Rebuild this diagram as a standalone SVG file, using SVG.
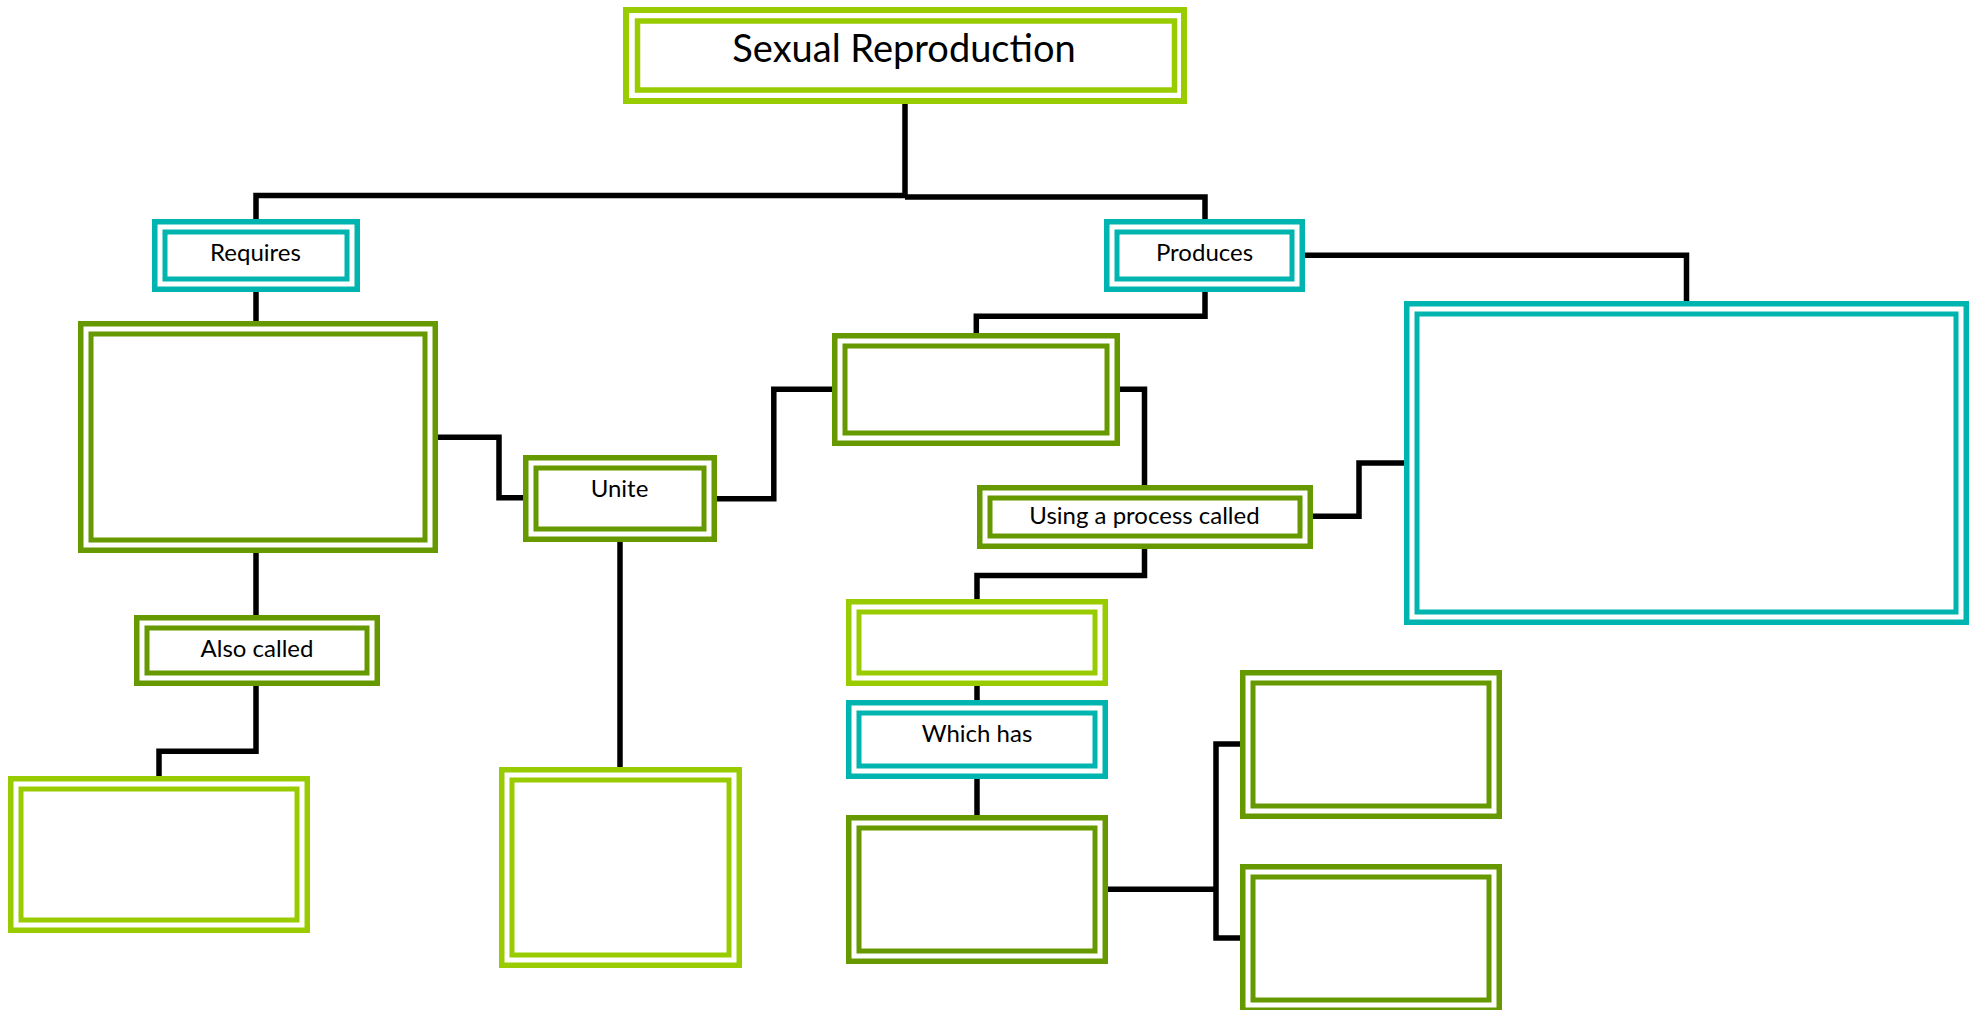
<svg xmlns="http://www.w3.org/2000/svg" width="1969" height="1010" viewBox="0 0 1969 1010">
<style>
rect{fill:none}
.o{stroke-width:5.5}
.i{stroke-width:5}
.dg{stroke:#669900}
.lg{stroke:#99CC00}
.tl{stroke:#00B4B0}
text{font-family:Lato,"Liberation Sans",sans-serif;font-size:24px;fill:#000;text-anchor:middle}
.c{fill:none;stroke:#000;stroke-width:5.5;stroke-linejoin:miter;stroke-linecap:butt}
</style>
<rect x="0" y="0" width="1969" height="1010" fill="#fff" style="fill:#fff"/>
<g id="connectors">
<path class="c" d="M905,104 V196 M256,219 V195.5 H905 M905,197 H1205 V219"/>
<path class="c" d="M256,292 V321"/>
<path class="c" d="M438,437.3 H499 V497.8 H523"/>
<path class="c" d="M717,498.7 H773.8 V389.3 H832"/>
<path class="c" d="M1205,292 V316.3 H976.3 V333"/>
<path class="c" d="M1305,255.3 H1686.5 V301"/>
<path class="c" d="M1120,389.2 H1144.5 V485"/>
<path class="c" d="M1313,516.3 H1359 V463 H1404"/>
<path class="c" d="M1144.5,549 V575.5 H977 V599"/>
<path class="c" d="M977,686 V700"/>
<path class="c" d="M977,779 V815"/>
<path class="c" d="M1108,889.3 H1216 M1240,744 H1216 V938 H1240"/>
<path class="c" d="M256,553 V615"/>
<path class="c" d="M256,686 V751.2 H159 V776"/>
<path class="c" d="M620,542 V767"/>
</g>
<g id="sexual-reproduction">
<rect class="lg" x="626" y="10" width="558" height="91" style="stroke-width:6"/>
<rect class="i lg" x="637.5" y="21" width="537" height="69" style="stroke-width:5.5"/>
<text x="904" y="62" style="font-size:38px">Sexual Reproduction</text>
</g>
<g id="requires">
<rect class="o tl" x="154.75" y="221.75" width="202.5" height="67.5"/>
<rect class="i tl" x="165" y="232" width="182" height="47"/>
<text x="255.5" y="261">Requires</text>
</g>
<g id="produces">
<rect class="o tl" x="1106.75" y="221.75" width="195.5" height="67.5"/>
<rect class="i tl" x="1117" y="232" width="175" height="47"/>
<text x="1204.5" y="261">Produces</text>
</g>
<g id="box-left">
<rect class="o dg" x="80.75" y="323.75" width="354.5" height="226.5"/>
<rect class="i dg" x="91" y="334" width="334" height="206"/>
</g>
<g id="unite">
<rect class="o dg" x="525.75" y="457.75" width="188.5" height="81.5"/>
<rect class="i dg" x="536" y="468" width="168" height="61"/>
<text x="619.5" y="497">Unite</text>
</g>
<g id="box-mid-top">
<rect class="o dg" x="834.75" y="335.75" width="282.5" height="107.5"/>
<rect class="i dg" x="845" y="346" width="262" height="87"/>
</g>
<g id="using-process">
<rect class="o dg" x="979.75" y="487.75" width="330.5" height="58.5"/>
<rect class="i dg" x="990" y="498" width="310" height="38"/>
<text x="1144.5" y="524">Using a process called</text>
</g>
<g id="box-right-teal">
<rect class="o tl" x="1406.75" y="303.75" width="559.5" height="318.5"/>
<rect class="i tl" x="1417" y="314" width="539" height="298"/>
</g>
<g id="also-called">
<rect class="o dg" x="136.75" y="617.75" width="240.5" height="65.5"/>
<rect class="i dg" x="147" y="628" width="220" height="45"/>
<text x="257" y="657">Also called</text>
</g>
<g id="box-bottom-left">
<rect class="o lg" x="10.75" y="778.75" width="296.5" height="151.5"/>
<rect class="i lg" x="21" y="789" width="276" height="131"/>
</g>
<g id="box-bottom-mid">
<rect class="o lg" x="501.75" y="769.75" width="237.5" height="195.5"/>
<rect class="i lg" x="512" y="780" width="217" height="175"/>
</g>
<g id="box-process">
<rect class="o lg" x="848.75" y="601.75" width="256.5" height="81.5"/>
<rect class="i lg" x="859" y="612" width="236" height="61"/>
</g>
<g id="which-has">
<rect class="o tl" x="848.75" y="702.75" width="256.5" height="73.5"/>
<rect class="i tl" x="859" y="713" width="236" height="53"/>
<text x="977" y="741.5">Which has</text>
</g>
<g id="box-which">
<rect class="o dg" x="848.75" y="817.75" width="256.5" height="143.5"/>
<rect class="i dg" x="859" y="828" width="236" height="123"/>
</g>
<g id="box-r1">
<rect class="o dg" x="1242.75" y="672.75" width="256.5" height="143.5"/>
<rect class="i dg" x="1253" y="683" width="236" height="123"/>
</g>
<g id="box-r2">
<rect class="o dg" x="1242.75" y="866.75" width="256.5" height="143.5"/>
<rect class="i dg" x="1253" y="877" width="236" height="123"/>
</g>
</svg>
